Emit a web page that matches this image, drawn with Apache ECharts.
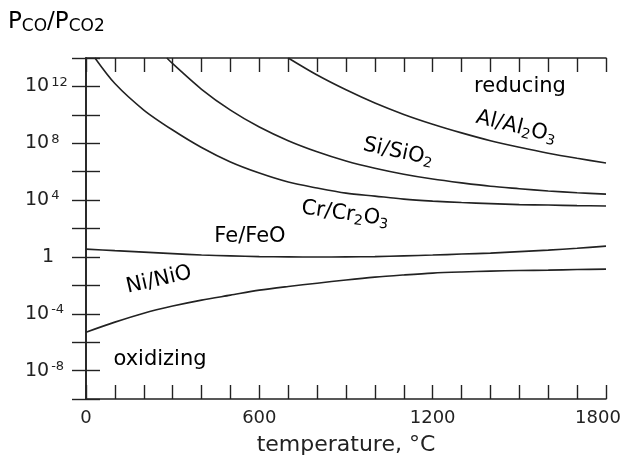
<!DOCTYPE html>
<html>
<head>
<meta charset="utf-8">
<script src="https://cdn.jsdelivr.net/npm/echarts@6/dist/echarts.min.js"></script>
<style>
  html, body { margin: 0; padding: 0; background: #fff; }
  #chart { width: 632px; height: 468px; }
</style>
</head>
<body>
<div id="chart"></div>
<script>
// Equilibrium CO/CO2 ratio for metal/oxide couples vs temperature.
// Values are stored as log10(P_CO / P_CO2).
var feTemp = [0, 100, 200, 300, 400, 500, 600, 700, 800, 900, 1000, 1100, 1200, 1300, 1400, 1500, 1600, 1700, 1800];
var feLog  = [0.55, 0.44, 0.34, 0.23, 0.13, 0.07, 0.02, 0.0, -0.01, 0.0, 0.02, 0.07, 0.13, 0.20, 0.27, 0.37, 0.48, 0.61, 0.76];

var niTemp = [0, 100, 200, 300, 400, 500, 600, 700, 800, 900, 1000, 1100, 1200, 1300, 1400, 1500, 1600, 1700, 1800];
var niLog  = [-5.30, -4.59, -3.96, -3.46, -3.04, -2.69, -2.34, -2.08, -1.85, -1.62, -1.42, -1.27, -1.14, -1.06, -1.00, -0.96, -0.93, -0.89, -0.86];

var crTemp = [31, 100, 200, 300, 400, 500, 600, 700, 800, 900, 1000, 1100, 1200, 1300, 1400, 1500, 1600, 1700, 1800];
var crLog  = [14.0, 12.2, 10.34, 8.93, 7.70, 6.68, 5.90, 5.27, 4.85, 4.49, 4.28, 4.07, 3.93, 3.83, 3.75, 3.68, 3.65, 3.61, 3.58];

var siTemp = [280, 300, 400, 500, 600, 700, 800, 900, 1000, 1100, 1200, 1300, 1400, 1500, 1600, 1700, 1800];
var siLog  = [14.0, 13.6, 11.8, 10.33, 9.14, 8.18, 7.40, 6.75, 6.24, 5.82, 5.48, 5.21, 4.97, 4.80, 4.64, 4.52, 4.42];

var alTemp = [700, 800, 900, 1000, 1100, 1200, 1300, 1400, 1500, 1600, 1700, 1800];
var alLog  = [14.0, 12.8, 11.76, 10.83, 10.03, 9.34, 8.73, 8.18, 7.72, 7.30, 6.94, 6.61];

var xTickLabels = [0, 600, 1200, 1800];
var yLabelExponents = [-8, -4, 0, 4, 8, 12];

var FONT = 'DejaVu Sans';
var INK = '#222';

function toPairs(temps, logs) {
  return temps.map(function (t, i) { return [t, Math.pow(10, logs[i])]; });
}

function curve(name, temps, logs) {
  return {
    name: name,
    type: 'line',
    data: toPairs(temps, logs),
    showSymbol: false,
    smooth: 0.3,
    lineStyle: { color: INK, width: 1.6 },
    clip: true,
    silent: true
  };
}

var chart = echarts.init(document.getElementById('chart'), null, { renderer: 'canvas' });

var tickStyle = { show: true, inside: true, length: 14, lineStyle: { color: INK, width: 1.4 } };
var lineStyle = { show: true, lineStyle: { color: INK, width: 1.6 } };

var yRich = {
  base: { fontFamily: FONT, fontSize: 19, color: INK },
  sup: { fontFamily: FONT, fontSize: 13, color: INK, verticalAlign: 'top', padding: [0, 0, 8, 2] },
  one: { fontFamily: FONT, fontSize: 19, color: INK, padding: [0, 0, 0, 17] }
};

var textRich = {
  t: { fontFamily: FONT, fontSize: 21, color: INK },
  s: { fontFamily: FONT, fontSize: 14, color: INK, padding: [10, 0, 0, 0] }
};

function note(text, x, y, deg) {
  return {
    type: 'text',
    x: x, y: y,
    rotation: (deg || 0) * Math.PI / 180,
    silent: true,
    style: {
      text: text,
      align: 'center',
      verticalAlign: 'middle',
      rich: textRich
    }
  };
}

chart.setOption({
  animation: false,
  backgroundColor: '#fff',
  grid: { left: 86, right: 26, top: 58, bottom: 69 },
  xAxis: [
    {
      type: 'value', position: 'bottom', min: 0, max: 1800, interval: 100,
      axisLine: lineStyle, axisTick: tickStyle, splitLine: { show: false },
      axisLabel: {
        margin: 10,
        fontFamily: FONT, fontSize: 18, color: INK,
        rich: { last: { fontFamily: FONT, fontSize: 18, color: INK, padding: [0, 16, 0, 0] } },
        formatter: function (v) {
          if (xTickLabels.indexOf(v) < 0) return '';
          return v === 1800 ? '{last|' + v + '}' : String(v);
        }
      },
      name: 'temperature, \u00B0C',
      nameLocation: 'middle',
      nameGap: 35,
      nameTextStyle: { fontFamily: FONT, fontSize: 22, color: INK, verticalAlign: 'top' }
    },
    {
      type: 'value', position: 'top', min: 0, max: 1800, interval: 100,
      axisLine: lineStyle, axisTick: tickStyle, splitLine: { show: false },
      axisLabel: { show: false }
    }
  ],
  yAxis: [
    {
      type: 'log', logBase: 10, position: 'left', min: 1e-10, max: 1e14, interval: 2,
      axisLine: lineStyle, axisTick: tickStyle, splitLine: { show: false },
      minorTick: { show: false },
      axisLabel: {
        align: 'left',
        margin: 61,
        rich: yRich,
        formatter: function (v) {
          var e = Math.round(Math.log(v) / Math.LN10);
          if (yLabelExponents.indexOf(e) < 0) return '';
          if (e === 0) return '{one|1}';
          return '{base|10}{sup|' + e + '}';
        }
      }
    },
    {
      type: 'log', logBase: 10, position: 'right', min: 1e-10, max: 1e14, interval: 2,
      axisLine: lineStyle, axisTick: tickStyle, splitLine: { show: false },
      axisLabel: { show: false }
    }
  ],
  series: [
    curve('Fe/FeO', feTemp, feLog),
    curve('Ni/NiO', niTemp, niLog),
    curve('Cr/Cr2O3', crTemp, crLog),
    curve('Si/SiO2', siTemp, siLog),
    curve('Al/Al2O3', alTemp, alLog)
  ],
  graphic: [
    {
      type: 'text', left: 8, top: 11, silent: true,
      style: {
        text: '{p|P}{s|CO}{p|/P}{s|CO2}',
        rich: {
          p: { fontFamily: FONT, fontSize: 23, color: INK },
          s: { fontFamily: FONT, fontSize: 17, color: INK, padding: [9, 0, 0, 0] }
        }
      }
    },
    note('{t|reducing}', 520, 87, 0),
    note('{t|Al/Al}{s|2}{t|O}{s|3}', 516, 127, -14),
    note('{t|Si/SiO}{s|2}', 398, 152, -12),
    note('{t|Cr/Cr}{s|2}{t|O}{s|3}', 345, 214, -8),
    note('{t|Fe/FeO}', 250, 237, 0),
    note('{t|Ni/NiO}', 159, 280, 13),
    note('{t|oxidizing}', 160, 360, 0)
  ]
});
</script>
</body>
</html>
